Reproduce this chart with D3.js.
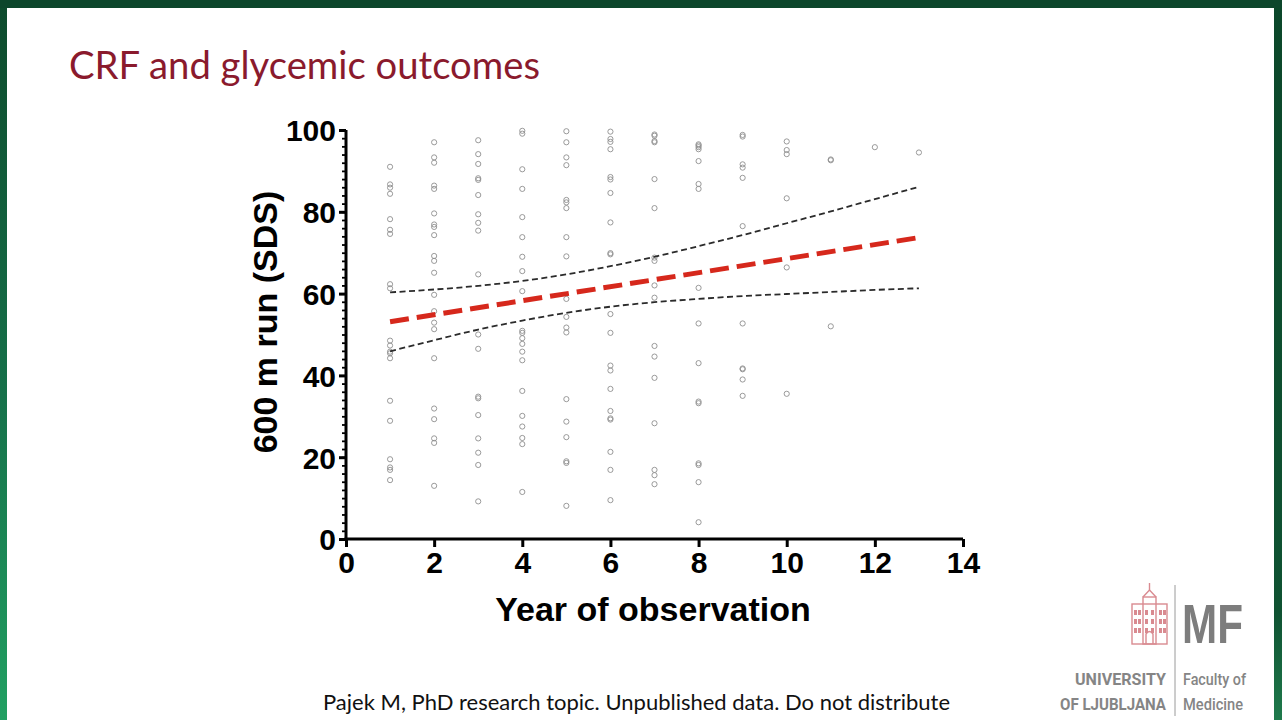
<!DOCTYPE html>
<html>
<head>
<meta charset="utf-8" />
<title>CRF and glycemic outcomes</title>
<style>
  html, body { margin: 0; padding: 0; background: #fff; overflow: hidden; }
  svg { display: block; }
  .tick text { font-family: "Liberation Sans", Arial, sans-serif; font-weight: bold; }
</style>
</head>
<body>
<svg width="1282" height="720"></svg>

<script src="https://cdn.jsdelivr.net/npm/d3@7"></script>
<script>
// observation years and the SDS values read at each year
var years = [1, 2, 3, 4, 5, 6, 7, 8, 9, 10, 11, 12, 13];
var sdsByYear = [
    [91.0, 86.7, 85.9, 84.4, 78.2, 75.6, 74.6, 62.3, 61.3, 48.5, 47.3, 45.8, 45.4, 44.2, 33.8, 28.9, 19.5, 17.5, 16.9, 14.4],
    [97.0, 93.3, 92.0, 86.4, 85.6, 79.6, 76.9, 76.3, 74.3, 69.2, 68.0, 65.1, 59.7, 55.7, 52.9, 51.3, 44.2, 31.9, 29.3, 24.6, 23.5, 13.0],
    [97.5, 94.1, 91.7, 88.2, 87.8, 84.1, 79.4, 77.3, 75.4, 64.7, 50.0, 46.5, 34.8, 34.4, 30.3, 24.6, 21.1, 18.1, 9.2],
    [99.8, 99.1, 90.4, 85.6, 78.7, 73.8, 69.0, 65.5, 60.6, 50.9, 50.4, 49.1, 47.7, 45.8, 43.7, 36.2, 30.1, 27.5, 24.7, 23.2, 11.5],
    [99.7, 97.0, 93.3, 91.4, 82.9, 82.3, 80.9, 73.8, 69.1, 58.7, 54.3, 51.7, 50.5, 34.2, 28.7, 24.9, 19.0, 18.6, 8.1],
    [99.6, 97.8, 97.1, 95.3, 88.5, 87.9, 84.6, 77.4, 69.9, 69.6, 55.0, 50.4, 42.4, 41.2, 36.7, 31.3, 29.5, 29.2, 21.3, 16.9, 9.5],
    [98.9, 98.6, 97.3, 97.0, 88.0, 80.9, 68.8, 68.0, 62.0, 59.0, 47.2, 44.6, 39.4, 28.3, 16.9, 15.6, 13.4],
    [96.5, 96.2, 95.8, 95.3, 92.4, 86.8, 85.6, 61.4, 52.7, 43.0, 33.6, 33.2, 18.5, 18.1, 13.9, 4.1],
    [98.8, 98.4, 91.6, 90.8, 88.3, 76.5, 52.7, 41.7, 41.5, 39.0, 35.0],
    [97.2, 95.1, 94.1, 83.3, 66.4, 35.5],
    [92.8, 92.6, 52.0],
    [95.8],
    [94.5]
];

// regression line (end points)
var fitYears = [1, 13];
var fitSDS = [53.1, 73.7];

// confidence band read at each year
var bandYears = [1, 2, 3, 4, 5, 6, 7, 8, 9, 10, 11, 12, 13];
var upperBand = [60.3, 61.0, 61.9, 63.1, 64.7, 66.7, 69.0, 71.6, 74.3, 77.2, 80.1, 83.1, 86.1];
var lowerBand = [45.9, 48.6, 51.2, 53.4, 55.3, 56.8, 57.9, 58.7, 59.4, 59.9, 60.4, 60.9, 61.3];

var xTicks = [0, 2, 4, 6, 8, 10, 12, 14];
var yTicks = [0, 20, 40, 60, 80, 100];

var svg = d3.select('svg');

// slide frame
var defs = svg.append('defs');
var gl = defs.append('linearGradient').attr('id', 'sideGreen')
    .attr('x1', 0).attr('y1', 0).attr('x2', 0).attr('y2', 1);
gl.append('stop').attr('offset', '0%').attr('stop-color', '#0d4a2c');
gl.append('stop').attr('offset', '55%').attr('stop-color', '#16714a');
gl.append('stop').attr('offset', '100%').attr('stop-color', '#21a062');

var gr = defs.append('linearGradient').attr('id', 'rightGreen')
    .attr('x1', 0).attr('y1', 0).attr('x2', 0).attr('y2', 1);
gr.append('stop').attr('offset', '0%').attr('stop-color', '#0b472a');
gr.append('stop').attr('offset', '85%').attr('stop-color', '#0f5232');
gr.append('stop').attr('offset', '100%').attr('stop-color', '#1f7a4c');

svg.append('rect').attr('width', 1282).attr('height', 720).attr('fill', 'url(#sideGreen)');
svg.append('rect').attr('x', 1200).attr('width', 82).attr('height', 720).attr('fill', 'url(#rightGreen)');
svg.append('rect').attr('width', 1282).attr('height', 8).attr('fill', '#0c462b');
svg.append('rect').attr('x', 7).attr('y', 8).attr('width', 1267).attr('height', 712).attr('fill', '#ffffff');

// title
svg.append('text')
    .attr('x', 69).attr('y', 79)
    .attr('font-family', 'Lato, "Open Sans", sans-serif')
    .attr('font-size', 38)
    .attr('fill', '#8a1a2d')
    .attr('textLength', 471).attr('lengthAdjust', 'spacingAndGlyphs')
    .text('CRF and glycemic outcomes');

// footer
svg.append('text')
    .attr('x', 323).attr('y', 710)
    .attr('font-family', 'Lato, "Open Sans", sans-serif')
    .attr('font-size', 21)
    .attr('fill', '#111')
    .attr('textLength', 627).attr('lengthAdjust', 'spacingAndGlyphs')
    .text('Pajek M, PhD research topic. Unpublished data. Do not distribute');

// chart
var x = d3.scaleLinear().domain([0, 14]).range([346, 963]);
var y = d3.scaleLinear().domain([0, 100]).range([539, 130]);

var chart = svg.append('g');

var points = [];
years.forEach(function (yr, i) {
    sdsByYear[i].forEach(function (v) {
        points.push({ year: yr, sds: v });
    });
});

chart.selectAll('circle.obs')
    .data(points)
    .enter()
    .append('circle')
    .attr('class', 'obs')
    .attr('cx', function (d) { return x(d.year); })
    .attr('cy', function (d) { return y(d.sds); })
    .attr('r', 2.6)
    .attr('fill', 'none')
    .attr('stroke', '#8e8e8e')
    .attr('stroke-width', 0.9);

var bandLine = d3.line()
    .x(function (d) { return x(d[0]); })
    .y(function (d) { return y(d[1]); })
    .curve(d3.curveMonotoneX);

[upperBand, lowerBand].forEach(function (band) {
    chart.append('path')
        .datum(d3.zip(bandYears, band))
        .attr('d', bandLine)
        .attr('fill', 'none')
        .attr('stroke', '#2b2b2b')
        .attr('stroke-width', 1.8)
        .attr('stroke-dasharray', '6,3.5');
});

chart.append('path')
    .datum(d3.zip(fitYears, fitSDS))
    .attr('d', d3.line()
        .x(function (d) { return x(d[0]); })
        .y(function (d) { return y(d[1]); }))
    .attr('fill', 'none')
    .attr('stroke', '#d6281c')
    .attr('stroke-width', 5)
    .attr('stroke-dasharray', '19,8');

// y axis with minor ticks
chart.append('g')
    .attr('transform', 'translate(346,0)')
    .call(d3.axisLeft(y).tickValues(d3.range(0, 101, 2)).tickSize(4).tickFormat(''))
    .call(function (g) {
        g.select('.domain').remove();
        g.selectAll('line').attr('stroke', '#000').attr('stroke-width', 1.8);
    });

var yAxis = chart.append('g')
    .attr('transform', 'translate(346,0)')
    .call(d3.axisLeft(y).tickValues(yTicks).tickSize(7).tickSizeOuter(0).tickPadding(3));
yAxis.select('.domain').attr('stroke', '#000').attr('stroke-width', 3)
    .attr('d', 'M0,' + (y(0) + 1.5) + 'V' + y(100));
yAxis.selectAll('line').attr('stroke', '#000').attr('stroke-width', 3);
yAxis.selectAll('text').attr('font-size', 30).attr('fill', '#000').attr('dy', '0.36em');

var xAxis = chart.append('g')
    .attr('transform', 'translate(0,539)')
    .call(d3.axisBottom(x).tickValues(xTicks).tickSize(8).tickSizeOuter(0).tickPadding(5));
xAxis.select('.domain').attr('stroke', '#000').attr('stroke-width', 3)
    .attr('d', 'M' + (x(0) - 1.5) + ',0H' + x(14));
xAxis.selectAll('line').attr('stroke', '#000').attr('stroke-width', 3);
xAxis.selectAll('text').attr('font-size', 30).attr('fill', '#000');

// axis titles
chart.append('text')
    .attr('x', 653).attr('y', 621)
    .attr('text-anchor', 'middle')
    .attr('font-family', '"Liberation Sans", Arial, sans-serif')
    .attr('font-weight', 'bold')
    .attr('font-size', 34)
    .text('Year of observation');

chart.append('text')
    .attr('transform', 'translate(277,322) rotate(-90)')
    .attr('text-anchor', 'middle')
    .attr('font-family', '"Liberation Sans", Arial, sans-serif')
    .attr('font-weight', 'bold')
    .attr('font-size', 34)
    .text('600 m run (SDS)');

// university logo
var logo = svg.append('g');
var pink = '#d98a90';
var b = logo.append('g').attr('fill', 'none').attr('stroke', pink).attr('stroke-width', 1.4);
b.append('rect').attr('x', 1132).attr('y', 604).attr('width', 35).attr('height', 40);
b.append('rect').attr('x', 1143).attr('y', 597).attr('width', 13).attr('height', 47);
b.append('path').attr('d', 'M1143,597 L1149.5,590 L1156,597');
b.append('line').attr('x1', 1149.5).attr('y1', 583).attr('x2', 1149.5).attr('y2', 590);
b.append('path').attr('d', 'M1146,644 V634 Q1149.5,629 1153,634 V644');
[610, 619, 628].forEach(function (wy) {
    [1134, 1138, 1159, 1163].forEach(function (wx) {
        logo.append('rect').attr('x', wx).attr('y', wy).attr('width', 3).attr('height', 5).attr('fill', pink);
    });
    [1145, 1151].forEach(function (wx) {
        logo.append('rect').attr('x', wx).attr('y', wy).attr('width', 3).attr('height', 5).attr('fill', pink);
    });
});

logo.append('line')
    .attr('x1', 1175).attr('y1', 585).attr('x2', 1175).attr('y2', 716)
    .attr('stroke', '#9a9a9a').attr('stroke-width', 1);

logo.append('text')
    .attr('x', 1182).attr('y', 643)
    .attr('font-family', '"Liberation Sans", Arial, sans-serif')
    .attr('font-weight', 'bold')
    .attr('font-size', 55)
    .attr('fill', '#7d7d7d')
    .attr('textLength', 61).attr('lengthAdjust', 'spacingAndGlyphs')
    .text('MF');

var logoFont = 'Roboto, "Noto Sans", sans-serif';
[['UNIVERSITY', 685, 91], ['OF LJUBLJANA', 710, 106]].forEach(function (t) {
    logo.append('text')
        .attr('x', 1166).attr('y', t[1])
        .attr('text-anchor', 'end')
        .attr('font-family', logoFont)
        .attr('font-weight', 'bold')
        .attr('font-size', 17)
        .attr('fill', '#858585')
        .attr('textLength', t[2]).attr('lengthAdjust', 'spacingAndGlyphs')
        .text(t[0]);
});
[['Faculty of', 685, 63], ['Medicine', 710, 60]].forEach(function (t) {
    logo.append('text')
        .attr('x', 1183).attr('y', t[1])
        .attr('font-family', logoFont)
        .attr('font-weight', 500)
        .attr('font-size', 17)
        .attr('fill', '#858585')
        .attr('textLength', t[2]).attr('lengthAdjust', 'spacingAndGlyphs')
        .text(t[0]);
});
</script>
</body>
</html>
